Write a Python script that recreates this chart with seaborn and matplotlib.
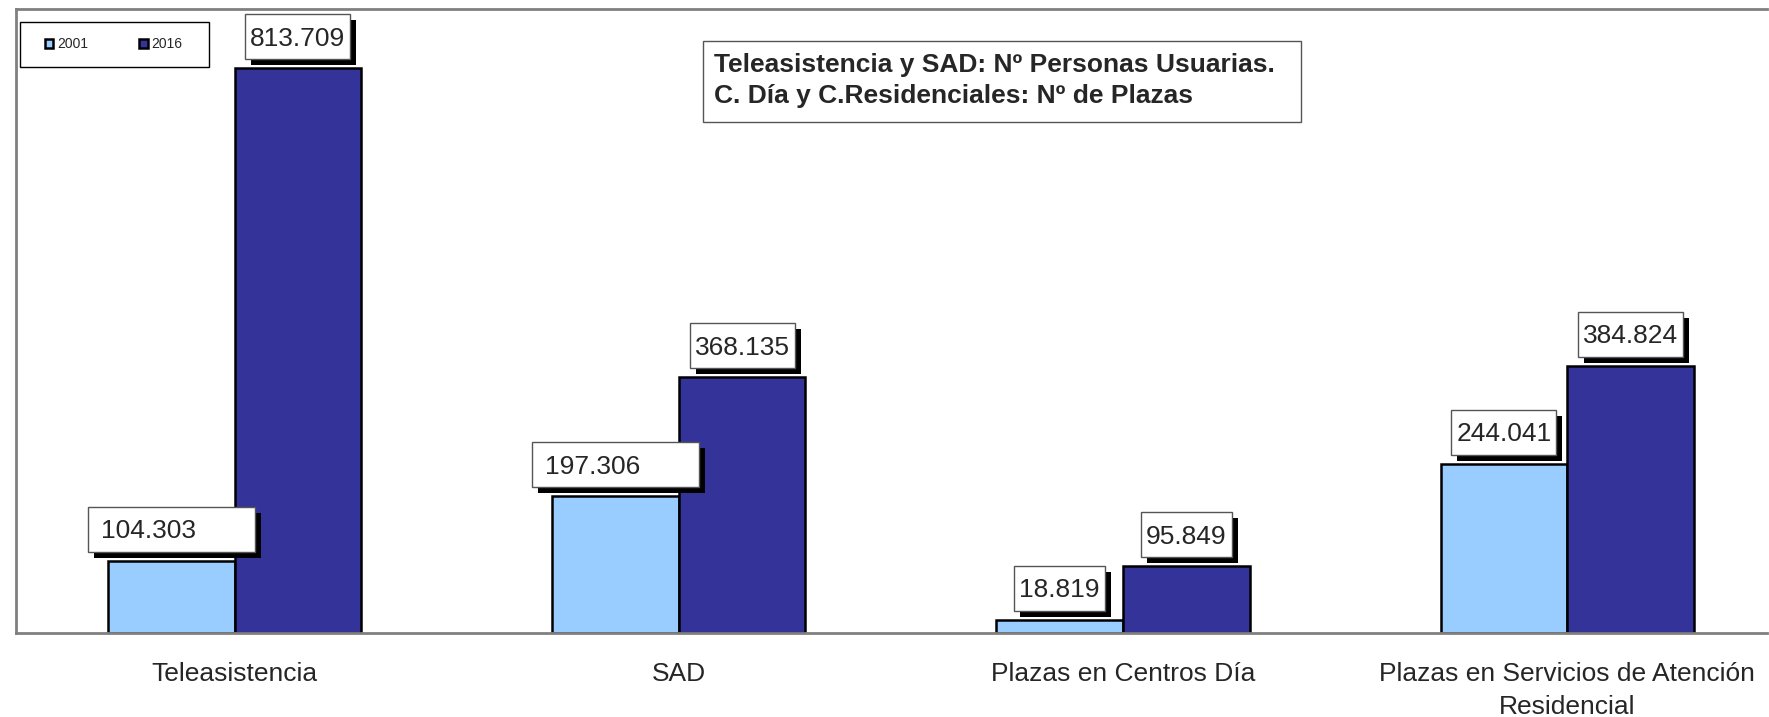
import matplotlib
matplotlib.use("Agg")
from matplotlib import pyplot as plt
from matplotlib.patches import Rectangle, Patch
from matplotlib.transforms import IdentityTransform
import seaborn as sns
import pandas as pd

categories = ['Teleasistencia', 'SAD', 'Plazas en Centros Día',
              'Plazas en Servicios de Atención\nResidencial']
years = ['2001', '2016']
values_2001 = [104303, 197306, 18819, 244041]
values_2016 = [813709, 368135, 95849, 384824]
labels_2001 = ['104.303', '197.306', '18.819', '244.041']
labels_2016 = ['813.709', '368.135', '95.849', '384.824']
title_lines = ['Teleasistencia y SAD: Nº Personas Usuarias.',
               'C. Día y C.Residenciales: Nº de Plazas']

colors = ['#99CCFF', '#333399']

df = pd.DataFrame({
    'cat': categories * 2,
    'year': [years[0]] * 4 + [years[1]] * 4,
    'val': [v / 1000 for v in values_2001 + values_2016],
})

sns.set_style('white')
plt.rcParams['font.family'] = ['Liberation Sans', 'DejaVu Sans']

fig = plt.figure(figsize=(17.69, 7.17), dpi=100)
ax = fig.add_axes([16 / 1769, 84 / 717, 1751 / 1769, 624 / 717])

sns.barplot(data=df, x='cat', y='val', hue='year', palette=colors,
            width=0.57, edgecolor='black', linewidth=1.8, saturation=1,
            legend=False, ax=ax)

ax.set_xlim(-0.492, 3.45)
ax.set_ylim(0, 899)
ax.set_xlabel('')
ax.set_ylabel('')
ax.set_yticks([])
ax.tick_params(axis='x', length=0, pad=21, labelsize=19)
for lab in ax.get_xticklabels():
    lab.set_linespacing(1.45)

for s in ['left', 'top', 'bottom', 'right']:
    ax.spines[s].set_color('#808080')
    ax.spines[s].set_linewidth(2)
ax.spines['right'].set_visible(False)

# value boxes (pixel units) with black drop shadow;
# the first two 2001 boxes are wider with left-aligned text, as in the original
renderer = fig.canvas.get_renderer()
pix = IdentityTransform()
texts = [labels_2001, labels_2016]
wide = [[True, True, False, False], [False] * 4]
for k, cont in enumerate(ax.containers):
    for i, bar in enumerate(cont):
        x = bar.get_x() + bar.get_width() / 2
        px, py = ax.transData.transform((x, bar.get_height()))
        y0 = py + 9
        t = fig.text(px, y0 + 13.5, texts[k][i], transform=pix, ha='center',
                     va='baseline', fontsize=19, zorder=12)
        tw = t.get_window_extent(renderer).width
        if wide[k][i]:
            bw = 167
            left = px - bw / 2
            t.set_x(left + 13)
            t.set_ha('left')
        else:
            bw = tw + 10
            left = px - bw / 2
        fig.add_artist(Rectangle((left + 6, y0 - 6), bw, 45, transform=pix,
                                 facecolor='black', edgecolor='none', zorder=10))
        fig.add_artist(Rectangle((left, y0), bw, 45, transform=pix,
                                 facecolor='white', edgecolor='#555555',
                                 linewidth=1, zorder=11))

# legend
fig.add_artist(Rectangle((20, 717 - 67), 189, 45, transform=pix,
                         facecolor='white', edgecolor='black', linewidth=1, zorder=12))
handles = [Patch(facecolor=c, edgecolor='black', linewidth=1.8) for c in colors]
leg = fig.legend(handles, years, loc='center left',
                 bbox_to_anchor=(45 / 1769, 1 - 44 / 717),
                 ncol=2, fontsize=10, frameon=False,
                 handlelength=0.6, handleheight=0.6, handletextpad=0.25,
                 columnspacing=3.7, borderpad=0, borderaxespad=0)
leg.set_zorder(13)

# note box
fig.add_artist(Rectangle((703, 717 - 122), 598, 81, transform=pix,
                         facecolor='white', edgecolor='#555555', linewidth=1, zorder=12))
fig.text(714 / 1769, 1 - 53 / 717, '\n'.join(title_lines), ha='left', va='top',
         fontsize=19, fontweight='bold', linespacing=1.35, zorder=13)

fig.savefig('out.png', dpi=100)
